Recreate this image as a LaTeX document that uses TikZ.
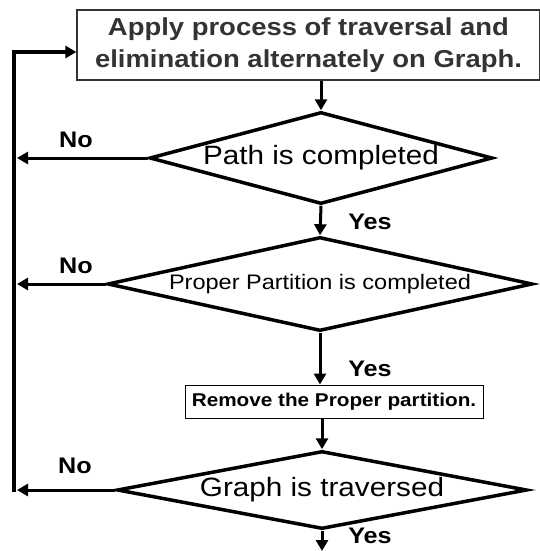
\documentclass[tikz,border=0pt]{standalone}
\usepackage{fontspec}
\setmainfont{Liberation Sans}[FakeStretch=1.12]
\usetikzlibrary{shapes.geometric,arrows.meta}

\begin{document}
\begin{tikzpicture}[x=1pt,y=-1pt,every node/.style={align=center},
  decision/.style={draw,diamond,line width=3.5pt,inner sep=0pt},
  flow/.style={-{Triangle[length=11pt,width=12pt]},line width=3pt},
  lbl/.style={font=\fontsize{22.5}{26}\selectfont\bfseries}]
\useasboundingbox (0,0) rectangle (540,551);

% steps and tests, top to bottom
\node[draw,black!80,line width=1.2pt,minimum width=463pt,minimum height=70pt,inner sep=0pt,
      font=\fontsize{24.5}{32}\selectfont\bfseries] (apply) at (308.5,45)
     {Apply process of traversal and\\elimination alternately on Graph.};
\node[decision,aspect=3.73,minimum width=343pt,minimum height=92pt,font=\fontsize{26.5}{30}\selectfont] (path) at (321,158) {Path is completed};
\node[decision,aspect=4.52,minimum width=425pt,minimum height=94pt,font=\fontsize{21}{24}\selectfont] (part) at (320,284) {Proper Partition is completed};
\node[draw,line width=1pt,minimum width=298pt,minimum height=33pt,inner sep=0pt,
      font=\fontsize{18.5}{22}\selectfont\bfseries] (remove) at (334,401.5) {Remove the Proper partition.};
\node[decision,aspect=5.26,minimum width=410pt,minimum height=78pt,font=\fontsize{26.5}{30}\selectfont] (graph) at (322,490) {Graph is traversed};

% rail on the left and the exit at the bottom
\coordinate (railtop) at (14,52);
\coordinate (railbot) at (14,492);
\coordinate (rail) at (17,0);
\coordinate (out) at (321,551);

\draw[flow] (apply.south -| path.north) -- (path.north);
\draw[flow] (path.south) -- (part.north);
\draw[flow] (part.south) -- (remove.north -| part.south);
\draw[flow] (remove.south -| graph.north) -- (graph.north);
\draw[flow] (graph.south) -- (graph.south |- out);

\draw[flow] (path.west) -- (path.west -| rail);
\draw[flow] (part.west) -- (part.west -| rail);
\draw[flow] (graph.west) -- (graph.west -| rail);
\draw[-{Triangle[length=11pt,width=12pt]},line width=4.5pt] (railbot) -- (railtop) -- (railtop -| apply.west);

\node[lbl] (no1) at (76,140) {No};
\node[lbl] (no2) at (76,266) {No};
\node[lbl] (no3) at (75,466) {No};
\node[lbl] (yes1) at (370,222) {Yes};
\node[lbl] (yes2) at (370,369) {Yes};
\node[lbl] (yes3) at (370,536) {Yes};
\end{tikzpicture}
\end{document}
